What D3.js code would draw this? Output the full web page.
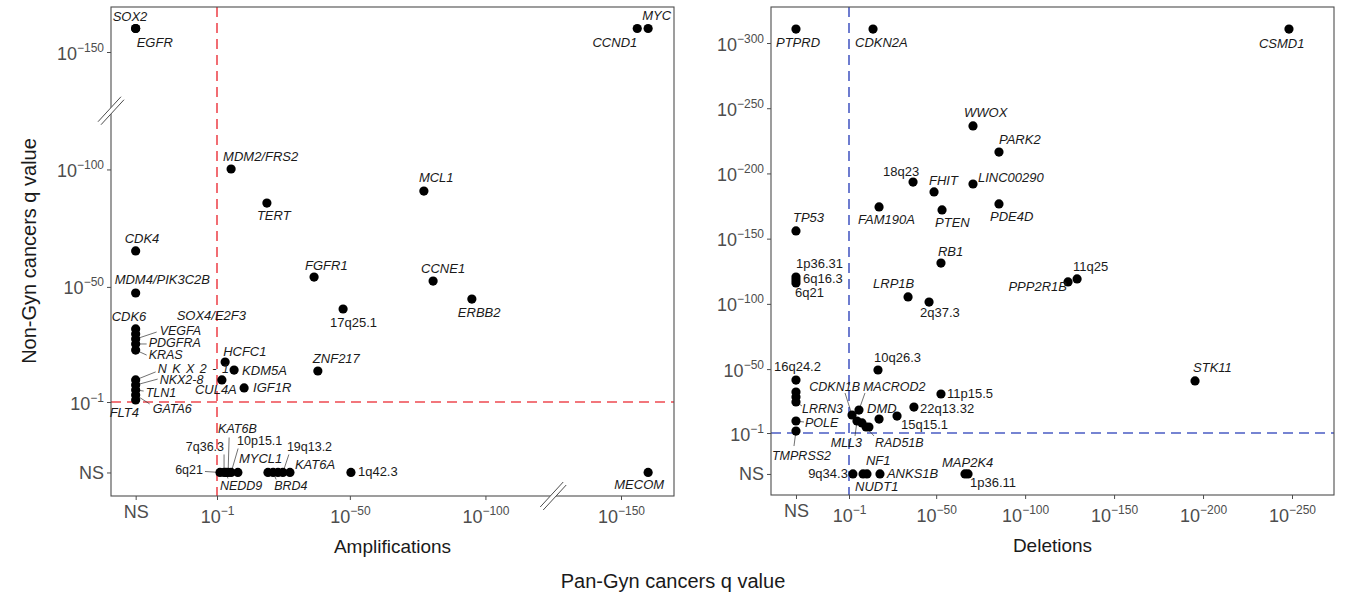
<!DOCTYPE html>
<html>
<head>
<meta charset="utf-8">
<script src="https://cdn.jsdelivr.net/npm/d3@7"></script>
<style>
  body { margin: 0; background: #fff; }
  text { font-family: "Liberation Sans", Arial, Helvetica, sans-serif; }
</style>
</head>
<body>
<svg id="fig" width="1346" height="599"></svg>
<script>
// values are -log10(q); "NS" = not significant
const NS = "NS";

// amplifications panel
const ampGene = [
  "SOX2", "EGFR", "MYC", "CCND1", "MDM2/FRS2", "TERT", "MCL1", "CDK4", "FGFR1", "CCNE1",
  "ERBB2", "MDM4/PIK3C2B", "17q25.1", "CDK6", "SOX4/E2F3", "VEGFA", "PDGFRA", "KRAS",
  "HCFC1", "KDM5A", "ZNF217", "CUL4A", "IGF1R", "NKX2-1", "NKX2-8", "TLN1", "GATA6", "FLT4",
  "6q21", "7q36.3", "NEDD9", "KAT6B", "10p15.1", "MYCL1", "", "BRD4", "", "19q13.2", "KAT6A",
  "1q42.3", "MECOM"
];
const ampPanGyn = [
  NS, NS, 160, 156, 6.2, 19.4, 77.3, NS, 36.8, 80.7,
  95, NS, 47.5, NS, NS, NS, NS, NS,
  4, 7.3, 38.2, 2.8, 11, NS, NS, NS, NS, NS,
  2.1, 3.6, 4.3, 5.1, 6.2, 8.7, 19.8, 21.7, 23.5, 25.3, 27.9,
  50.4, 160
];
const ampNonGyn = [
  160, 160, 160, 160, 100.2, 85.7, 90.8, 65.3, 54.2, 52.5,
  44.8, 47.4, 40.6, 32.1, 30, 27.8, 25.7, 23.1,
  18, 14.6, 14.2, 10.4, 7, 10.4, 8.2, 6.1, 4, 1.9,
  NS, NS, NS, NS, NS, NS, NS, NS, NS, NS, NS,
  NS, NS
];

// deletions panel
const delGene = [
  "PTPRD", "CDKN2A", "CSMD1", "WWOX", "PARK2", "18q23", "LINC00290", "FHIT", "PDE4D", "FAM190A",
  "PTEN", "TP53", "RB1", "1p36.31", "6q16.3", "6q21", "LRP1B", "2q37.3", "PPP2R1B", "11q25",
  "10q26.3", "STK11", "16q24.2", "", "", "LRRN3", "POLE", "TMPRSS2", "11p15.5", "22q13.32",
  "MACROD2", "CDKN1B", "DMD", "15q15.1", "MLL3", "RAD51B", "", "",
  "9q34.3", "NUDT1", "NF1", "ANKS1B", "MAP2K4", "1p36.11"
];
const delPanGyn = [
  NS, 14.5, 248.3, 70.7, 85.3, 37, 70.7, 48.8, 85.3, 17.9,
  53.3, NS, 52.7, NS, NS, NS, 34.2, 46, 124.1, 129.2,
  17.3, 195.5, NS, NS, NS, NS, NS, NS, 52.7, 37.5,
  6.6, 2.7, 17.9, 28, 5.5, 8.3, 10.6, 12.2,
  3.2, 8.9, 11.1, 18.4, 66.2, 67.9
];
const delNonGyn = [
  310.7, 310.7, 310.7, 236.4, 216.4, 193.4, 191.9, 185.8, 176.6, 174.3,
  172, 155.9, 131.3, 120.6, 118.3, 116, 105.3, 101.4, 116.8, 119.1,
  49.3, 40.9, 41.6, 32.4, 28.6, 24.8, 10.2, 2.5, 30.9, 20.9,
  18.6, 14.8, 11.7, 14, 10.2, 8.7, 5.6, 5.6,
  NS, NS, NS, NS, NS, NS
];

// axis ticks (exponents of 10^-k)
const ampTicksX = [1, 50, 100, 150];
const ampTicksY = [1, 50, 100, 150];
const delTicksX = [1, 50, 100, 150, 200, 250];
const delTicksY = [1, 50, 100, 150, 200, 250, 300];
const qCut = 1; // q = 0.1

// label placement (repel-like): [dx, dy, anchor, leaderDx, leaderDy]
const ampLabelPos = {
  "SOX2": [-23, -8, "start"], "EGFR": [1, 18, "start"],
  "MYC": [23, -9, "end"], "CCND1": [0, 18, "end"],
  "MDM2/FRS2": [-8, -8, "start"], "TERT": [-10, 17, "start"], "MCL1": [-5, -9, "start"],
  "CDK4": [-11, -8, "start"], "FGFR1": [-9, -7, "start"], "CCNE1": [-12, -8, "start"],
  "ERBB2": [-14, 18, "start"], "MDM4/PIK3C2B": [-21, -9, "start"], "17q25.1": [-13, 18, "start"],
  "CDK6": [-24, -8, "start"], "SOX4/E2F3": [41, -14, "start"],
  "VEGFA": [24, -4, "start", 21, -7], "PDGFRA": [13, 3, "start", 11, 0], "KRAS": [13, 9, "start", 11, 5],
  "HCFC1": [-2, -6, "start"], "KDM5A": [8, 5, "start"], "ZNF217": [-5, -8, "start"],
  "CUL4A": [-27, 14, "start"], "IGF1R": [9, 4, "start"],
  "NKX2-1": [22, -7, "start", 20, -8], "NKX2-8": [24, -1, "start", 22, -6],
  "TLN1": [10, 7, "start", 8, 1], "GATA6": [17, 18, "start", 14, 9], "FLT4": [-26, 17, "start"],
  "6q21": [-17, 2, "end", -15, -1], "7q36.3": [0, -21, "end", 0, -18],
  "NEDD9": [-6, 18, "start", 2, 6], "KAT6B": [-10, -39, "start", 1, -35],
  "10p15.1": [6, -27, "start", 7, -24], "MYCL1": [1, -9, "start"],
  "BRD4": [1, 18, "start", 3, 7], "19q13.2": [4, -21, "start", 6, -18], "KAT6A": [5, -3, "start"],
  "1q42.3": [7, 4, "start"], "MECOM": [16, 17, "end"]
};
const delLabelPos = {
  "PTPRD": [-20, 18, "start"], "CDKN2A": [-18, 18, "start"], "CSMD1": [-30, 19, "start"],
  "WWOX": [-9, -9, "start"], "PARK2": [0, -8, "start"], "18q23": [-30, -6, "start"],
  "LINC00290": [5, -2, "start"], "FHIT": [-5, -7, "start"], "PDE4D": [-9, 17, "start"],
  "FAM190A": [-21, 17, "start"], "PTEN": [-7, 17, "start"], "TP53": [-3, -9, "start"],
  "RB1": [-3, -7, "start"], "1p36.31": [0, -9, "start"], "6q16.3": [7, 3, "start"], "6q21": [-1, 14, "start"],
  "LRP1B": [-35, -9, "start"], "2q37.3": [-9, 15, "start"], "11q25": [-4, -8, "start"],
  "PPP2R1B": [-1, 9, "end"], "10q26.3": [-4, -8, "start"], "STK11": [-2, -9, "start"],
  "16q24.2": [-22, -9, "start"], "11p15.5": [6, 4, "start"], "22q13.32": [6, 6, "start"],
  "15q15.1": [4, 13, "start"], "CDKN1B": [8, -24, "end", -7, -22], "MACROD2": [4, -19, "start", 6, -17],
  "LRRN3": [6, 11, "start", 6, 4], "DMD": [-12, -6, "start"], "POLE": [9, 6, "start", 8, 1],
  "MLL3": [5, 26, "end", -2, 15], "RAD51B": [13, 24, "start", 12, 13], "TMPRSS2": [-24, 29, "start", -2, 15],
  "9q34.3": [-5, 4, "end"], "NF1": [-1, -9, "start"], "NUDT1": [-8, 17, "start"],
  "ANKS1B": [7, 4, "start"], "MAP2K4": [-23, -7, "start"], "1p36.11": [2, 13, "start"]
};

const panels = [
  {
    gene: ampGene, xs: ampPanGyn, ys: ampNonGyn, labels: ampLabelPos,
    box: { x0: 111, x1: 674, y0: 7, y1: 496 },
    x: d3.scaleLinear().domain([1, 150]).range([217, 621]), nsX: -29,
    y: d3.scaleLinear().domain([1, 150]).range([402, 52]), nsY: -29,
    ticksX: ampTicksX, ticksY: ampTicksY,
    cutColor: "#ee4950", title: "Amplifications", breakAt: 125
  },
  {
    gene: delGene, xs: delPanGyn, ys: delNonGyn, labels: delLabelPos,
    box: { x0: 771, x1: 1334, y0: 7, y1: 495 },
    x: d3.scaleLinear().domain([1, 250]).range([849, 1292]), nsX: -28.8,
    y: d3.scaleLinear().domain([1, 300]).range([433, 43]), nsY: -30.4,
    ticksX: delTicksX, ticksY: delTicksY,
    cutColor: "#4a5cc4", title: "Deletions", breakAt: null
  }
];

const svg = d3.select("#fig");
const axisGrey = "#4d4d4d";
const isBand = (s) => /^\d+[pq]\d/.test(s);

// "10" with superscript "-k"
function powLabel(text, k, big, small) {
  text.text(null);
  text.append("tspan").attr("font-size", big).text("10");
  text.append("tspan").attr("font-size", small).attr("dy", -8).text("\u2212" + k);
}

panels.forEach((p) => {
  const g = svg.append("g");
  const b = p.box;
  const px = (v) => p.x(v === NS ? p.nsX : v);
  const py = (v) => p.y(v === NS ? p.nsY : v);

  // threshold lines
  g.append("line")
    .attr("x1", px(qCut)).attr("x2", px(qCut)).attr("y1", b.y0).attr("y2", b.y1)
    .attr("stroke", p.cutColor).attr("stroke-width", 1.6).attr("stroke-dasharray", "10,6");
  g.append("line")
    .attr("x1", b.x0).attr("x2", b.x1).attr("y1", py(qCut)).attr("y2", py(qCut))
    .attr("stroke", p.cutColor).attr("stroke-width", 1.6).attr("stroke-dasharray", "10,6");

  // panel border
  g.append("rect")
    .attr("x", b.x0).attr("y", b.y0).attr("width", b.x1 - b.x0).attr("height", b.y1 - b.y0)
    .attr("fill", "none").attr("stroke", axisGrey).attr("stroke-width", 1.1);

  // x axis
  const gx = g.append("g").attr("transform", `translate(0,${b.y1})`)
    .call(d3.axisBottom(p.x).tickValues([p.nsX, ...p.ticksX]).tickSize(4).tickFormat(""));
  gx.select(".domain").remove();
  gx.selectAll(".tick line").attr("stroke", axisGrey);
  gx.selectAll(".tick").each(function (d) {
    const t = d3.select(this).append("text").attr("fill", axisGrey).attr("text-anchor", "middle");
    if (d === p.nsX) t.attr("y", 22).attr("font-size", 18).text("NS");
    else { t.attr("y", 27); powLabel(t, d, 18, 12); }
  });

  // y axis
  const gy = g.append("g").attr("transform", `translate(${b.x0},0)`)
    .call(d3.axisLeft(p.y).tickValues([p.nsY, ...p.ticksY]).tickSize(4).tickFormat(""));
  gy.select(".domain").remove();
  gy.selectAll(".tick line").attr("stroke", axisGrey);
  gy.selectAll(".tick").each(function (d) {
    const t = d3.select(this).append("text").attr("fill", axisGrey)
      .attr("text-anchor", "end").attr("x", -7);
    if (d === p.nsY) t.attr("y", 6).attr("font-size", 18).text("NS");
    else { t.attr("y", 7); powLabel(t, d, 18, 12); }
  });

  // axis breaks
  if (p.breakAt) {
    const brk = (cx, cy) => {
      const bg = g.append("g").attr("transform", `translate(${cx},${cy})`);
      bg.append("polygon").attr("points", "-13,11 -10,14 13,-11 10,-14").attr("fill", "#fff");
      bg.append("line").attr("x1", -13).attr("y1", 11).attr("x2", 10).attr("y2", -14)
        .attr("stroke", axisGrey).attr("stroke-width", 1);
      bg.append("line").attr("x1", -10).attr("y1", 14).attr("x2", 13).attr("y2", -11)
        .attr("stroke", axisGrey).attr("stroke-width", 1);
    };
    brk(b.x0, p.y(p.breakAt));
    brk(p.x(p.breakAt), b.y1);
  }

  const pts = p.gene.map((name, i) => ({ name, x: px(p.xs[i]), y: py(p.ys[i]) }));

  // leader lines
  g.append("g").selectAll("line")
    .data(pts.filter((d) => p.labels[d.name] && p.labels[d.name].length > 3))
    .join("line")
    .attr("x1", (d) => d.x).attr("y1", (d) => d.y)
    .attr("x2", (d) => d.x + p.labels[d.name][3]).attr("y2", (d) => d.y + p.labels[d.name][4])
    .attr("stroke", "#333").attr("stroke-width", 0.7);

  // points
  g.append("g").selectAll("circle").data(pts).join("circle")
    .attr("cx", (d) => d.x).attr("cy", (d) => d.y).attr("r", 4.6).attr("fill", "#000");

  // labels
  g.append("g").selectAll("text")
    .data(pts.filter((d) => p.labels[d.name]))
    .join("text")
    .attr("x", (d) => d.x + p.labels[d.name][0])
    .attr("y", (d) => d.y + p.labels[d.name][1])
    .attr("text-anchor", (d) => p.labels[d.name][2])
    .attr("font-size", (d) => (p.labels[d.name].length > 3 ? 12.5 : 13))
    .attr("font-style", (d) => (isBand(d.name) ? "normal" : "italic"))
    .attr("letter-spacing", (d) => (d.name === "NKX2-1" ? 5.5 : null))
    .attr("fill", "#1a1a1a")
    .text((d) => d.name);

  // panel title
  svg.append("text")
    .attr("x", (b.x0 + b.x1) / 2).attr("y", b.y1 + 57)
    .attr("text-anchor", "middle").attr("font-size", 19).attr("fill", "#1a1a1a")
    .text(p.title);
});

// shared axis titles
svg.append("text")
  .attr("transform", "translate(36,251) rotate(-90)")
  .attr("text-anchor", "middle").attr("font-size", 20).attr("fill", "#1a1a1a")
  .text("Non-Gyn cancers q value");
svg.append("text")
  .attr("x", 673).attr("y", 588)
  .attr("text-anchor", "middle").attr("font-size", 20).attr("fill", "#1a1a1a")
  .text("Pan-Gyn cancers q value");
</script>
</body>
</html>
